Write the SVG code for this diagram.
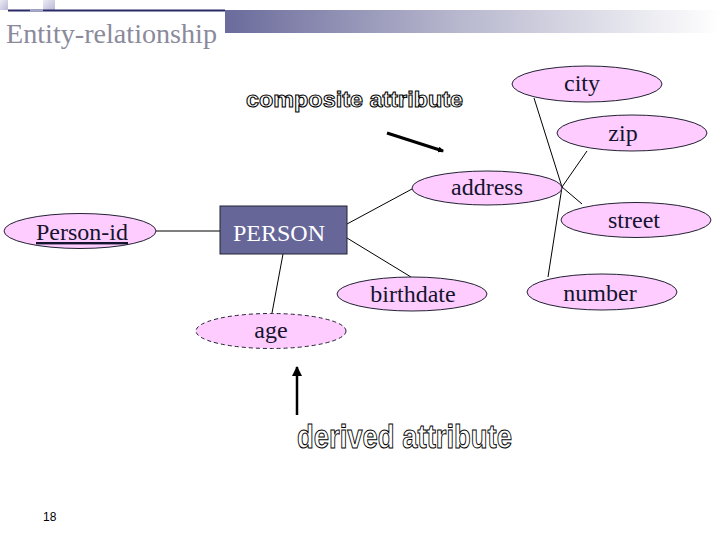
<svg xmlns="http://www.w3.org/2000/svg" width="720" height="540" viewBox="0 0 720 540">
<defs>
<linearGradient id="bar" x1="0" y1="0" x2="1" y2="0">
<stop offset="0" stop-color="#6b6b9c"/>
<stop offset="0.45" stop-color="#b4b4cc"/>
<stop offset="1" stop-color="#ffffff"/>
</linearGradient>
<linearGradient id="sq" x1="0" y1="0" x2="1" y2="1">
<stop offset="0" stop-color="#ebebf5"/>
<stop offset="1" stop-color="#b8b8d6"/>
</linearGradient>
<marker id="ah" viewBox="0 0 10 10" refX="9" refY="5" markerWidth="4" markerHeight="4" orient="auto">
<path d="M0,0 L10,5 L0,10 z" fill="#000"/>
</marker>
<marker id="ah2" viewBox="0 0 10 10" refX="8" refY="5" markerWidth="2" markerHeight="2" orient="auto">
<path d="M0,0 L10,5 L0,10 z" fill="#000"/>
</marker>
<style>
.attr ellipse{fill:#ffccff;stroke:#222233;stroke-width:1}
.conn line{stroke:#000;stroke-width:1}
</style>
</defs>
<rect width="720" height="540" fill="#fff"/>
<g id="header">
<rect x="0" y="0" width="8" height="10" fill="url(#sq)"/>
<rect x="43" y="0" width="12" height="10" fill="url(#sq)"/>
<rect x="8" y="9.5" width="217" height="2" fill="#2a2a66"/>
<rect x="30" y="9.5" width="13" height="2" fill="#a8a8c8"/>
<rect x="225" y="10" width="495" height="23" fill="url(#bar)"/>
<text x="6" y="43" font-family="Liberation Serif, Times New Roman, serif" font-size="28" fill="#8a8a9c" textLength="211" lengthAdjust="spacingAndGlyphs">Entity-relationship</text>
</g>
<g id="connectors" class="conn">
<line x1="155" y1="231" x2="220" y2="231"/>
<line x1="347" y1="224" x2="412" y2="189"/>
<line x1="347" y1="238" x2="411" y2="277"/>
<line x1="283" y1="254" x2="272" y2="313"/>
<line x1="534" y1="98" x2="562" y2="187"/>
<line x1="587" y1="151" x2="562" y2="187"/>
<line x1="562" y1="187" x2="582" y2="204"/>
<line x1="562" y1="187" x2="548" y2="277"/>
</g>
<g id="annotations">
<line x1="387" y1="133" x2="443" y2="151" stroke="#000" stroke-width="3" marker-end="url(#ah2)"/>
<line x1="297" y1="415" x2="297" y2="367" stroke="#000" stroke-width="2.5" marker-end="url(#ah)"/>
<g font-family="Liberation Sans, Arial, sans-serif" font-weight="bold" fill="#ffffff" stroke="#000000" stroke-width="1">
<text x="246" y="107" font-size="22" textLength="217" lengthAdjust="spacingAndGlyphs">composite attribute</text>
<text x="297" y="448" font-size="33" textLength="215" lengthAdjust="spacingAndGlyphs">derived attribute</text>
</g>
</g>
<g font-family="Liberation Serif, Times New Roman, serif" font-size="24" fill="#14142e" text-anchor="middle">
<g id="person">
<rect x="220" y="206" width="127" height="48" fill="#666699" stroke="#222233" stroke-width="1"/>
<text x="279" y="241" fill="#ffffff">PERSON</text>
</g>
<g id="person-id" class="attr">
<ellipse cx="80" cy="231" rx="76" ry="17.5"/>
<text x="82" y="240" text-decoration="underline">Person-id</text>
</g>
<g id="address" class="attr">
<ellipse cx="487" cy="188" rx="75" ry="17"/>
<text x="487" y="195">address</text>
</g>
<g id="city" class="attr">
<ellipse cx="587" cy="84" rx="75" ry="18"/>
<text x="582" y="91">city</text>
</g>
<g id="zip" class="attr">
<ellipse cx="632" cy="133" rx="75" ry="18"/>
<text x="623" y="141">zip</text>
</g>
<g id="street" class="attr">
<ellipse cx="636" cy="220" rx="75" ry="17.5"/>
<text x="634" y="228">street</text>
</g>
<g id="birthdate" class="attr">
<ellipse cx="412" cy="294" rx="75" ry="17"/>
<text x="413" y="302">birthdate</text>
</g>
<g id="number" class="attr">
<ellipse cx="602" cy="292" rx="75" ry="18"/>
<text x="600" y="301">number</text>
</g>
<g id="age" class="attr">
<ellipse cx="271" cy="331" rx="75" ry="17.5" stroke-dasharray="4 3" style="stroke-dasharray:4 3"/>
<text x="271" y="338">age</text>
</g>
</g>
<text x="43" y="521" font-family="Liberation Sans, Arial, sans-serif" font-size="12" fill="#000">18</text>
</svg>
